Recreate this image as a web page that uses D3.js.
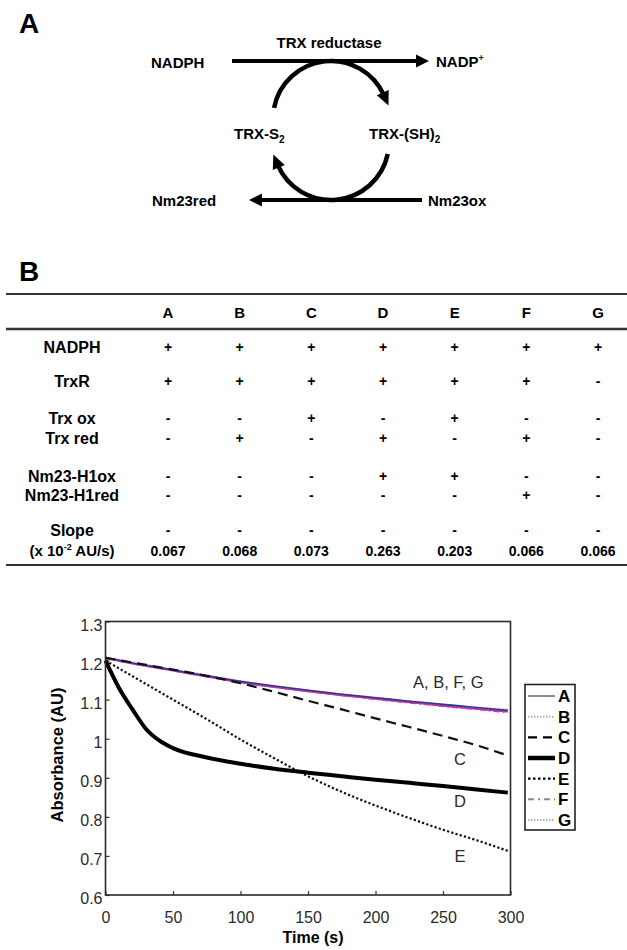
<!DOCTYPE html>
<html><head><meta charset="utf-8">
<script src="https://cdn.jsdelivr.net/npm/d3@7"></script>
<style>
html,body{margin:0;padding:0;background:#fff;}
svg{display:block;font-family:"Liberation Sans",Arial,sans-serif;}
</style></head>
<body>
<svg id="fig" width="627" height="950"></svg>
<script>
// ---------- DATA ----------
const conditions = ["A","B","C","D","E","F","G"];
const rowNames = ["NADPH","TrxR","Trx ox","Trx red","Nm23-H1ox","Nm23-H1red"];
const nadph   = ["+","+","+","+","+","+","+"];
const trxR    = ["+","+","+","+","+","+","-"];
const trxOx   = ["-","-","+","-","+","-","-"];
const trxRed  = ["-","+","-","+","-","+","-"];
const nm23ox  = ["-","-","-","+","+","-","-"];
const nm23red = ["-","-","-","-","-","+","-"];
const slopes  = ["0.067","0.068","0.073","0.263","0.203","0.066","0.066"];

const timeS = [0,10,20,30,40,50,75,100,125,150,175,200,225,250,275,298];
const absA = [1.207,1.200,1.193,1.187,1.181,1.175,1.160,1.145,1.133,1.122,1.112,1.103,1.094,1.085,1.077,1.070];
const absB = [1.210,1.203,1.196,1.190,1.184,1.178,1.163,1.148,1.136,1.125,1.115,1.106,1.097,1.088,1.080,1.075];
const absC = [1.207,1.201,1.195,1.189,1.183,1.177,1.161,1.142,1.120,1.097,1.075,1.052,1.030,1.007,0.983,0.957];
const absD = [1.200,1.130,1.075,1.025,0.995,0.976,0.952,0.936,0.923,0.913,0.904,0.895,0.887,0.879,0.870,0.862];
const absE = [1.200,1.180,1.160,1.140,1.120,1.100,1.050,0.998,0.950,0.904,0.864,0.829,0.797,0.767,0.740,0.713];
const absF = [1.206,1.199,1.192,1.186,1.180,1.174,1.159,1.144,1.132,1.121,1.111,1.101,1.092,1.083,1.075,1.067];
const absG = [1.208,1.201,1.194,1.188,1.182,1.176,1.161,1.147,1.135,1.124,1.114,1.105,1.096,1.088,1.080,1.073];

const xTicks = [0,50,100,150,200,250,300];
const yTicks = [0.6,0.7,0.8,0.9,1,1.1,1.2,1.3];
const curveLabels = ["A, B, F, G","C","D","E"];

// ---------- SETUP ----------
const svg = d3.select("#fig");
const FONT = '"Liberation Sans",Arial,sans-serif';

function txt(g, x, y, s, size, weight, anchor) {
  return g.append("text").attr("x", x).attr("y", y).text(s)
    .attr("font-size", size).attr("font-weight", weight || "normal")
    .attr("text-anchor", anchor || "start").attr("fill", "#000");
}

// ---------- PANEL A : scheme ----------
const pa = svg.append("g");
txt(pa, 19, 33, "A", 28, "bold");
txt(pa, 329, 48, "TRX reductase", 15, "bold", "middle");
txt(pa, 151, 68, "NADPH", 15, "bold");
const np = txt(pa, 436, 67, "NADP", 15, "bold");
np.append("tspan").attr("font-size", 9).attr("dy", -6).text("+");

function arrowHead(g, tip, dir, len, half) {
  const [tx, ty] = tip, [dx, dy] = dir;
  const bx = tx - dx * len, by = ty - dy * len;
  const px = -dy, py = dx;
  g.append("path")
    .attr("d", `M${tx},${ty}L${bx + px * half},${by + py * half}L${bx - px * half},${by - py * half}Z`)
    .attr("fill", "#000");
}
pa.append("line").attr("x1", 232).attr("y1", 61).attr("x2", 418).attr("y2", 61)
  .attr("stroke", "#000").attr("stroke-width", 4);
arrowHead(pa, [429, 61], [1, 0], 13, 6.5);
pa.append("line").attr("x1", 422).attr("y1", 200).attr("x2", 260).attr("y2", 200)
  .attr("stroke", "#000").attr("stroke-width", 4);
arrowHead(pa, [249, 200], [-1, 0], 13, 6.5);

function arcArrow(g, cx, cy, r, a0, a1) {
  const rad = d => d * Math.PI / 180;
  const p0 = [cx + r * Math.cos(rad(a0)), cy + r * Math.sin(rad(a0))];
  const p1 = [cx + r * Math.cos(rad(a1)), cy + r * Math.sin(rad(a1))];
  g.append("path")
    .attr("d", `M${p0[0]},${p0[1]}A${r},${r} 0 0 1 ${p1[0]},${p1[1]}`)
    .attr("fill", "none").attr("stroke", "#000").attr("stroke-width", 4.5);
  const t = [-Math.sin(rad(a1)), Math.cos(rad(a1))];
  arrowHead(g, [p1[0] + t[0] * 11, p1[1] + t[1] * 11], t, 14, 6.5);
}
arcArrow(pa, 331, 119, 58, 191, 336);
arcArrow(pa, 331, 142, 58, 12, 157);

const s2 = txt(pa, 234, 139, "TRX-S", 15, "bold");
s2.append("tspan").attr("font-size", 10).attr("dy", 4).text("2");
const sh = txt(pa, 369, 139, "TRX-(SH)", 15, "bold");
sh.append("tspan").attr("font-size", 10).attr("dy", 4).text("2");
txt(pa, 152, 206, "Nm23red", 15, "bold");
txt(pa, 428, 206, "Nm23ox", 15, "bold");

// ---------- PANEL B : table ----------
const pb = svg.append("g");
txt(pb, 19, 281, "B", 28, "bold");
const col = d3.scalePoint().domain(conditions).range([168, 598]);
const rule = (y, w) => pb.append("line").attr("x1", 6).attr("x2", 627).attr("y1", y).attr("y2", y)
  .attr("stroke", "#333").attr("stroke-width", w);
rule(294, 2); rule(329, 2.5); rule(565, 2);
conditions.forEach(c => txt(pb, col(c), 318, c, 15, "bold", "middle"));

const rowData = [nadph, trxR, trxOx, trxRed, nm23ox, nm23red];
const rowY = [353, 387, 424, 444, 482, 501];
const labelX = 72;
rowNames.forEach((name, i) => {
  txt(pb, labelX, rowY[i], name, 16, "bold", "middle");
  rowData[i].forEach((v, j) => txt(pb, col(conditions[j]), rowY[i] - 1, v, 14, "bold", "middle"));
});
txt(pb, labelX, 536, "Slope", 16, "bold", "middle");
const unit = txt(pb, labelX, 556, "(x 10", 15, "bold", "middle");
unit.append("tspan").attr("font-size", 9).attr("dy", -6).text("-2");
unit.append("tspan").attr("dy", 6).text(" AU/s)");
conditions.forEach((c, j) => {
  txt(pb, col(c), 535, "-", 14, "bold", "middle");
  txt(pb, col(c), 556, slopes[j], 14, "bold", "middle");
});

// ---------- PANEL C : kinetics chart ----------
const pc = svg.append("g");
const x = d3.scaleLinear().domain([0, 300]).range([105.5, 510.5]);
const y = d3.scaleLinear().domain([0.6, 1.3]).range([895, 621.5]);

const xAxis = d3.axisBottom(x).tickValues(xTicks).tickSizeInner(-4).tickSizeOuter(0).tickPadding(17).tickFormat(d3.format("d"));
const yAxis = d3.axisLeft(y).tickValues(yTicks).tickSizeInner(-4).tickSizeOuter(0).tickPadding(3).tickFormat(d => d3.format("")(d));
const gx = pc.append("g").attr("transform", `translate(0,${y(0.6)})`).call(xAxis);
const gy = pc.append("g").attr("transform", `translate(${x(0)},0)`).call(yAxis);
[gx, gy].forEach(g => {
  g.select(".domain").remove();
  g.selectAll(".tick line").attr("stroke", "#333").attr("stroke-width", 1.2);
  g.selectAll(".tick text").attr("font-size", 16).attr("font-family", FONT).attr("fill", "#2a2a2a");
});
gy.selectAll(".tick text").attr("dy", "0.55em");

const seriesList = [
  {key:"A", vals:absA, color:"#b0309e", width:2.4, dash:null},
  {key:"F", vals:absF, color:"#c83aaa", width:1.6, dash:"6,3,2,3"},
  {key:"B", vals:absB, color:"#f0a4d4", width:1.6, dash:"2,2"},
  {key:"G", vals:absG, color:"#2c3890", width:1.6, dash:null},
  {key:"C", vals:absC, color:"#111", width:2.2, dash:"10,6"},
  {key:"E", vals:absE, color:"#111", width:2.2, dash:"2.2,2.2"},
  {key:"D", vals:absD, color:"#000", width:4, dash:null}
];
const line = d3.line().x(d => x(d[0])).y(d => y(d[1])).curve(d3.curveMonotoneX);
seriesList.forEach(s => {
  pc.append("path").datum(timeS.map((t, i) => [t, s.vals[i]]))
    .attr("d", line).attr("fill", "none").attr("stroke", s.color)
    .attr("stroke-width", s.width).attr("stroke-dasharray", s.dash)
    .attr("stroke-linejoin", "round");
});

pc.append("rect").attr("x", x(0)).attr("y", y(1.3)).attr("width", x(300) - x(0)).attr("height", y(0.6) - y(1.3))
  .attr("fill", "none").attr("stroke", "#2a2a2a").attr("stroke-width", 1.6);

const lblPos = [[413, 688, "start"], [460, 765, "middle"], [460, 807, "middle"], [460, 862, "middle"]];
curveLabels.forEach((l, i) => txt(pc, lblPos[i][0], lblPos[i][1], l, 16.5, "normal", lblPos[i][2]).attr("fill", "#2a2a2a"));

txt(pc, 313, 943, "Time (s)", 16, "bold", "middle");
txt(pc, 0, 0, "Absorbance (AU)", 16.5, "bold", "middle").attr("transform", "translate(63,755) rotate(-90)");

const legendStyles = [
  {key:"A", color:"#8a8a8a", width:2, dash:null},
  {key:"B", color:"#b0b0b0", width:2, dash:"1.5,1.5"},
  {key:"C", color:"#000", width:2.2, dash:"9,6"},
  {key:"D", color:"#000", width:4.5, dash:null},
  {key:"E", color:"#000", width:2.2, dash:"2.5,2.5"},
  {key:"F", color:"#8a8a8a", width:2, dash:"6,4,2,4"},
  {key:"G", color:"#b0b0b0", width:2, dash:"1.5,1.5"}
];
const lg = pc.append("g");
lg.append("rect").attr("x", 525).attr("y", 684.5).attr("width", 50).attr("height", 145.5)
  .attr("fill", "#fff").attr("stroke", "#222").attr("stroke-width", 1.6);
const ly = d3.scalePoint().domain(legendStyles.map(d => d.key)).range([696, 820]);
legendStyles.forEach(s => {
  lg.append("line").attr("x1", 528).attr("x2", 555).attr("y1", ly(s.key)).attr("y2", ly(s.key))
    .attr("stroke", s.color).attr("stroke-width", s.width).attr("stroke-dasharray", s.dash);
  txt(lg, 558, ly(s.key) + 6, s.key, 17, "bold");
});
</script>
</body></html>
